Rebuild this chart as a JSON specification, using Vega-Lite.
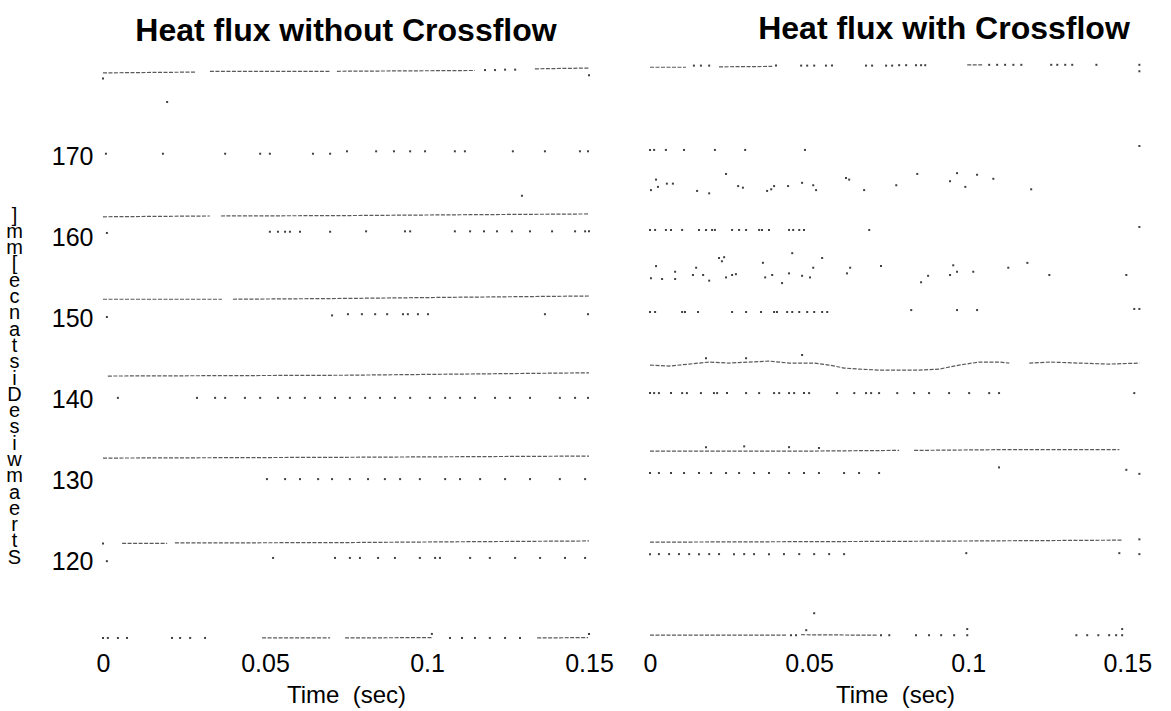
{
"$schema": "https://vega.github.io/schema/vega-lite/v6.json",
"background": "white",
"padding": {"left": 5, "top": 13, "right": 5, "bottom": 5},
"bounds": "flush",
"spacing": 61,
"resolve": {"scale": {"x": "independent", "y": "shared"}},
"datasets": {
"left": [
{"kind":"trace","seg":"L1a","time":0,"dist":180.4},{"kind":"trace","seg":"L1a","time":0.0284,"dist":180.5},
{"kind":"trace","seg":"L1b","time":0.033,"dist":180.6},{"kind":"trace","seg":"L1b","time":0.0701,"dist":180.6},
{"kind":"trace","seg":"L1c","time":0.0722,"dist":180.6},{"kind":"trace","seg":"L1c","time":0.1148,"dist":180.7},
{"kind":"trace","seg":"L1e","time":0.1333,"dist":180.9},{"kind":"trace","seg":"L1e","time":0.15,"dist":181.0},
{"kind":"trace","seg":"L5a","time":0,"dist":162.6},{"kind":"trace","seg":"L5a","time":0.033,"dist":162.7},
{"kind":"trace","seg":"L5b","time":0.0364,"dist":162.7},{"kind":"trace","seg":"L5b","time":0.0747,"dist":162.75},{"kind":"trace","seg":"L5b","time":0.1102,"dist":162.85},{"kind":"trace","seg":"L5b","time":0.15,"dist":162.95},
{"kind":"trace","seg":"L7a","time":0,"dist":152.4},{"kind":"trace","seg":"L7a","time":0.0367,"dist":152.4},
{"kind":"trace","seg":"L7b","time":0.0401,"dist":152.4},{"kind":"trace","seg":"L7b","time":0.0747,"dist":152.5},{"kind":"trace","seg":"L7b","time":0.1102,"dist":152.65},{"kind":"trace","seg":"L7b","time":0.15,"dist":152.8},
{"kind":"trace","seg":"L9","time":0.0015,"dist":142.9},{"kind":"trace","seg":"L9","time":0.0747,"dist":143.0},{"kind":"trace","seg":"L9","time":0.15,"dist":143.3},
{"kind":"trace","seg":"L11","time":0,"dist":132.75},{"kind":"trace","seg":"L11","time":0.0747,"dist":132.85},{"kind":"trace","seg":"L11","time":0.15,"dist":133.0},
{"kind":"trace","seg":"L13a","time":0.0059,"dist":122.2},{"kind":"trace","seg":"L13a","time":0.0198,"dist":122.2},
{"kind":"trace","seg":"L13b","time":0.0222,"dist":122.25},{"kind":"trace","seg":"L13b","time":0.0747,"dist":122.3},{"kind":"trace","seg":"L13b","time":0.1102,"dist":122.4},{"kind":"trace","seg":"L13b","time":0.15,"dist":122.5},
{"kind":"trace","seg":"L15a","time":0.0491,"dist":110.5},{"kind":"trace","seg":"L15a","time":0.0701,"dist":110.5},
{"kind":"trace","seg":"L15b","time":0.0747,"dist":110.5},{"kind":"trace","seg":"L15b","time":0.1015,"dist":110.55},
{"kind":"trace","seg":"L15c","time":0.134,"dist":110.5},{"kind":"trace","seg":"L15c","time":0.1497,"dist":110.55},
{"kind":"dot","time":0,"dist":179.7},{"kind":"dot","time":0.15,"dist":180.1},{"kind":"dot","time":0.0198,"dist":176.8},
{"kind":"dot","time":0.1179,"dist":180.75},{"kind":"dot","time":0.121,"dist":180.75},{"kind":"dot","time":0.1241,"dist":180.8},{"kind":"dot","time":0.1272,"dist":180.8},
{"kind":"dot","time":0.0009,"dist":170.4},{"kind":"dot","time":0.0185,"dist":170.4},{"kind":"dot","time":0.0377,"dist":170.4},{"kind":"dot","time":0.0485,"dist":170.4},{"kind":"dot","time":0.0515,"dist":170.4},{"kind":"dot","time":0.0648,"dist":170.4},{"kind":"dot","time":0.0701,"dist":170.4},
{"kind":"dot","time":0.0753,"dist":170.7},{"kind":"dot","time":0.0843,"dist":170.7},{"kind":"dot","time":0.0898,"dist":170.7},{"kind":"dot","time":0.0948,"dist":170.7},{"kind":"dot","time":0.0994,"dist":170.7},{"kind":"dot","time":0.1086,"dist":170.7},{"kind":"dot","time":0.1117,"dist":170.7},{"kind":"dot","time":0.1265,"dist":170.7},{"kind":"dot","time":0.1364,"dist":170.7},{"kind":"dot","time":0.1472,"dist":170.7},{"kind":"dot","time":0.1497,"dist":170.7},
{"kind":"dot","time":0.1293,"dist":165.2},
{"kind":"dot","time":0.0012,"dist":160.6},{"kind":"dot","time":0.0515,"dist":160.75},{"kind":"dot","time":0.054,"dist":160.75},{"kind":"dot","time":0.0562,"dist":160.75},{"kind":"dot","time":0.0577,"dist":160.75},{"kind":"dot","time":0.0608,"dist":160.75},{"kind":"dot","time":0.0701,"dist":160.75},
{"kind":"dot","time":0.0812,"dist":160.8},{"kind":"dot","time":0.0932,"dist":160.8},{"kind":"dot","time":0.0948,"dist":160.8},{"kind":"dot","time":0.1086,"dist":160.8},{"kind":"dot","time":0.1133,"dist":160.8},{"kind":"dot","time":0.1176,"dist":160.8},{"kind":"dot","time":0.1216,"dist":160.8},{"kind":"dot","time":0.1262,"dist":160.8},{"kind":"dot","time":0.1318,"dist":160.8},{"kind":"dot","time":0.1386,"dist":160.8},{"kind":"dot","time":0.1457,"dist":160.8},{"kind":"dot","time":0.1488,"dist":160.8},{"kind":"dot","time":0.15,"dist":160.8},
{"kind":"dot","time":0.0012,"dist":150.2},{"kind":"dot","time":0.0707,"dist":150.4},{"kind":"dot","time":0.0756,"dist":150.55},{"kind":"dot","time":0.0799,"dist":150.55},{"kind":"dot","time":0.084,"dist":150.55},{"kind":"dot","time":0.0877,"dist":150.55},{"kind":"dot","time":0.0926,"dist":150.55},{"kind":"dot","time":0.0941,"dist":150.55},{"kind":"dot","time":0.0972,"dist":150.55},{"kind":"dot","time":0.1003,"dist":150.55},{"kind":"dot","time":0.1364,"dist":150.55},{"kind":"dot","time":0.1497,"dist":150.55},
{"kind":"dot","time":0.0046,"dist":140.2},{"kind":"dot","time":0.029,"dist":140.2},{"kind":"dot","time":0.0346,"dist":140.2},{"kind":"dot","time":0.0377,"dist":140.2},{"kind":"dot","time":0.0438,"dist":140.2},{"kind":"dot","time":0.0485,"dist":140.2},{"kind":"dot","time":0.054,"dist":140.2},{"kind":"dot","time":0.0577,"dist":140.2},{"kind":"dot","time":0.0623,"dist":140.2},{"kind":"dot","time":0.067,"dist":140.2},{"kind":"dot","time":0.0716,"dist":140.2},{"kind":"dot","time":0.0762,"dist":140.2},{"kind":"dot","time":0.0809,"dist":140.2},{"kind":"dot","time":0.0855,"dist":140.2},{"kind":"dot","time":0.0901,"dist":140.2},{"kind":"dot","time":0.0948,"dist":140.2},{"kind":"dot","time":0.1009,"dist":140.2},{"kind":"dot","time":0.1056,"dist":140.2},{"kind":"dot","time":0.1102,"dist":140.2},{"kind":"dot","time":0.1148,"dist":140.2},{"kind":"dot","time":0.121,"dist":140.2},{"kind":"dot","time":0.1256,"dist":140.2},{"kind":"dot","time":0.1318,"dist":140.2},{"kind":"dot","time":0.141,"dist":140.2},{"kind":"dot","time":0.1457,"dist":140.2},{"kind":"dot","time":0.1497,"dist":140.2},
{"kind":"dot","time":0.0506,"dist":130.15},{"kind":"dot","time":0.0562,"dist":130.15},{"kind":"dot","time":0.0608,"dist":130.15},{"kind":"dot","time":0.0664,"dist":130.15},{"kind":"dot","time":0.0707,"dist":130.15},{"kind":"dot","time":0.0762,"dist":130.15},{"kind":"dot","time":0.0818,"dist":130.15},{"kind":"dot","time":0.087,"dist":130.15},{"kind":"dot","time":0.0917,"dist":130.15},{"kind":"dot","time":0.0978,"dist":130.15},{"kind":"dot","time":0.1056,"dist":130.15},{"kind":"dot","time":0.1102,"dist":130.15},{"kind":"dot","time":0.1164,"dist":130.15},{"kind":"dot","time":0.1241,"dist":130.15},{"kind":"dot","time":0.1318,"dist":130.15},{"kind":"dot","time":0.141,"dist":130.15},{"kind":"dot","time":0.1488,"dist":130.15},
{"kind":"dot","time":0,"dist":122.2},
{"kind":"dot","time":0.0012,"dist":120.0},{"kind":"dot","time":0.0525,"dist":120.4},{"kind":"dot","time":0.0716,"dist":120.4},{"kind":"dot","time":0.0762,"dist":120.4},{"kind":"dot","time":0.0793,"dist":120.4},{"kind":"dot","time":0.0849,"dist":120.4},{"kind":"dot","time":0.0901,"dist":120.4},{"kind":"dot","time":0.0978,"dist":120.4},{"kind":"dot","time":0.1025,"dist":120.4},{"kind":"dot","time":0.104,"dist":120.4},{"kind":"dot","time":0.1133,"dist":120.4},{"kind":"dot","time":0.1194,"dist":120.4},{"kind":"dot","time":0.1272,"dist":120.4},{"kind":"dot","time":0.1349,"dist":120.4},{"kind":"dot","time":0.1426,"dist":120.4},{"kind":"dot","time":0.1488,"dist":120.4},
{"kind":"dot","time":0,"dist":110.5},{"kind":"dot","time":0.0015,"dist":110.5},{"kind":"dot","time":0.0046,"dist":110.5},{"kind":"dot","time":0.0074,"dist":110.5},{"kind":"dot","time":0.0213,"dist":110.5},{"kind":"dot","time":0.0238,"dist":110.5},{"kind":"dot","time":0.0269,"dist":110.5},{"kind":"dot","time":0.0315,"dist":110.5},{"kind":"dot","time":0.1071,"dist":110.5},{"kind":"dot","time":0.1108,"dist":110.5},{"kind":"dot","time":0.1148,"dist":110.5},{"kind":"dot","time":0.1194,"dist":110.5},{"kind":"dot","time":0.1241,"dist":110.5},{"kind":"dot","time":0.1287,"dist":110.5},{"kind":"dot","time":0.1015,"dist":111.0},{"kind":"dot","time":0.15,"dist":111.0}
],
"right": [
{"kind":"trace","seg":"R1a","time":0,"dist":181.1},{"kind":"trace","seg":"R1a","time":0.0113,"dist":181.1},
{"kind":"trace","seg":"R1b","time":0.0217,"dist":181.15},{"kind":"trace","seg":"R1b","time":0.0384,"dist":181.2},
{"kind":"trace","seg":"R1c","time":0.0997,"dist":181.4},{"kind":"trace","seg":"R1c","time":0.1044,"dist":181.4},
{"kind":"trace","seg":"R7a","time":0,"dist":144.26},{"kind":"trace","seg":"R7a","time":0.006,"dist":144.13},{"kind":"trace","seg":"R7a","time":0.0123,"dist":144.38},{"kind":"trace","seg":"R7a","time":0.0186,"dist":144.63},{"kind":"trace","seg":"R7a","time":0.0248,"dist":144.5},{"kind":"trace","seg":"R7a","time":0.0311,"dist":144.63},{"kind":"trace","seg":"R7a","time":0.0374,"dist":144.75},{"kind":"trace","seg":"R7a","time":0.0437,"dist":144.5},{"kind":"trace","seg":"R7a","time":0.0516,"dist":144.5},{"kind":"trace","seg":"R7a","time":0.0563,"dist":144.26},{"kind":"trace","seg":"R7a","time":0.061,"dist":143.89},{"kind":"trace","seg":"R7a","time":0.0657,"dist":143.76},{"kind":"trace","seg":"R7a","time":0.072,"dist":143.64},{"kind":"trace","seg":"R7a","time":0.0783,"dist":143.64},{"kind":"trace","seg":"R7a","time":0.0846,"dist":143.64},{"kind":"trace","seg":"R7a","time":0.0909,"dist":143.76},{"kind":"trace","seg":"R7a","time":0.0972,"dist":144.26},{"kind":"trace","seg":"R7a","time":0.1035,"dist":144.63},{"kind":"trace","seg":"R7a","time":0.1097,"dist":144.63},{"kind":"trace","seg":"R7a","time":0.1129,"dist":144.5},
{"kind":"trace","seg":"R7b","time":0.1192,"dist":144.5},{"kind":"trace","seg":"R7b","time":0.1255,"dist":144.63},{"kind":"trace","seg":"R7b","time":0.1349,"dist":144.5},{"kind":"trace","seg":"R7b","time":0.1443,"dist":144.38},{"kind":"trace","seg":"R7b","time":0.1538,"dist":144.5},
{"kind":"trace","seg":"R9a","time":0,"dist":133.6},{"kind":"trace","seg":"R9a","time":0.0437,"dist":133.6},{"kind":"trace","seg":"R9a","time":0.0783,"dist":133.7},
{"kind":"trace","seg":"R9b","time":0.083,"dist":133.7},{"kind":"trace","seg":"R9b","time":0.1129,"dist":133.8},{"kind":"trace","seg":"R9b","time":0.1475,"dist":133.8},
{"kind":"trace","seg":"R11","time":0,"dist":122.35},{"kind":"trace","seg":"R11","time":0.0783,"dist":122.45},{"kind":"trace","seg":"R11","time":0.1484,"dist":122.6},
{"kind":"trace","seg":"R14a","time":0,"dist":110.84},{"kind":"trace","seg":"R14a","time":0.0428,"dist":110.84},
{"kind":"trace","seg":"R14b","time":0.0475,"dist":110.9},{"kind":"trace","seg":"R14b","time":0.0714,"dist":110.84},
{"kind":"dot","time":0.0138,"dist":181.3},{"kind":"dot","time":0.016,"dist":181.3},{"kind":"dot","time":0.0186,"dist":181.3},{"kind":"dot","time":0.0396,"dist":181.3},{"kind":"dot","time":0.0475,"dist":181.3},{"kind":"dot","time":0.0494,"dist":181.3},{"kind":"dot","time":0.0516,"dist":181.3},{"kind":"dot","time":0.0553,"dist":181.3},{"kind":"dot","time":0.0572,"dist":181.3},{"kind":"dot","time":0.0679,"dist":181.3},{"kind":"dot","time":0.0698,"dist":181.3},{"kind":"dot","time":0.0742,"dist":181.3},{"kind":"dot","time":0.0761,"dist":181.3},{"kind":"dot","time":0.0783,"dist":181.35},{"kind":"dot","time":0.0805,"dist":181.35},{"kind":"dot","time":0.0836,"dist":181.35},{"kind":"dot","time":0.0852,"dist":181.35},{"kind":"dot","time":0.0865,"dist":181.35},{"kind":"dot","time":0.1066,"dist":181.4},{"kind":"dot","time":0.1091,"dist":181.4},{"kind":"dot","time":0.1116,"dist":181.4},{"kind":"dot","time":0.1142,"dist":181.4},{"kind":"dot","time":0.1167,"dist":181.4},{"kind":"dot","time":0.1261,"dist":181.4},{"kind":"dot","time":0.128,"dist":181.4},{"kind":"dot","time":0.1305,"dist":181.4},{"kind":"dot","time":0.1327,"dist":181.4},{"kind":"dot","time":0.1403,"dist":181.4},{"kind":"dot","time":0.1538,"dist":181.4},{"kind":"dot","time":0.1538,"dist":180.6},
{"kind":"dot","time":0,"dist":170.87},{"kind":"dot","time":0.0013,"dist":170.87},{"kind":"dot","time":0.005,"dist":170.87},{"kind":"dot","time":0.0107,"dist":170.87},{"kind":"dot","time":0.0204,"dist":170.87},{"kind":"dot","time":0.0299,"dist":170.87},{"kind":"dot","time":0.0487,"dist":170.87},{"kind":"dot","time":0.1538,"dist":171.36},
{"kind":"dot","time":0.0019,"dist":167.2},{"kind":"dot","time":0.0003,"dist":165.9},{"kind":"dot","time":0.0025,"dist":166.3},{"kind":"dot","time":0.0053,"dist":166.7},{"kind":"dot","time":0.0072,"dist":166.7},{"kind":"dot","time":0.0148,"dist":165.8},{"kind":"dot","time":0.0186,"dist":165.5},{"kind":"dot","time":0.0239,"dist":167.9},{"kind":"dot","time":0.0277,"dist":166.4},{"kind":"dot","time":0.0292,"dist":166.2},{"kind":"dot","time":0.0368,"dist":165.8},{"kind":"dot","time":0.0381,"dist":166.0},{"kind":"dot","time":0.039,"dist":166.4},{"kind":"dot","time":0.0434,"dist":166.4},{"kind":"dot","time":0.0478,"dist":166.8},{"kind":"dot","time":0.0513,"dist":166.5},{"kind":"dot","time":0.0522,"dist":165.9},{"kind":"dot","time":0.0616,"dist":167.4},{"kind":"dot","time":0.0626,"dist":167.2},{"kind":"dot","time":0.0673,"dist":165.9},{"kind":"dot","time":0.0774,"dist":166.5},{"kind":"dot","time":0.084,"dist":167.9},{"kind":"dot","time":0.0943,"dist":167.0},{"kind":"dot","time":0.0965,"dist":168.0},{"kind":"dot","time":0.0991,"dist":166.3},{"kind":"dot","time":0.1028,"dist":167.8},{"kind":"dot","time":0.1079,"dist":167.3},{"kind":"dot","time":0.1198,"dist":166.0},
{"kind":"dot","time":0,"dist":160.97},{"kind":"dot","time":0.0016,"dist":160.97},{"kind":"dot","time":0.005,"dist":160.97},{"kind":"dot","time":0.0066,"dist":160.97},{"kind":"dot","time":0.0101,"dist":160.97},{"kind":"dot","time":0.0154,"dist":160.97},{"kind":"dot","time":0.0176,"dist":160.97},{"kind":"dot","time":0.0195,"dist":160.97},{"kind":"dot","time":0.0204,"dist":160.97},{"kind":"dot","time":0.0258,"dist":160.97},{"kind":"dot","time":0.028,"dist":160.97},{"kind":"dot","time":0.0302,"dist":160.97},{"kind":"dot","time":0.0343,"dist":160.97},{"kind":"dot","time":0.0352,"dist":160.97},{"kind":"dot","time":0.0374,"dist":160.97},{"kind":"dot","time":0.0437,"dist":160.97},{"kind":"dot","time":0.045,"dist":160.97},{"kind":"dot","time":0.0469,"dist":160.97},{"kind":"dot","time":0.0484,"dist":160.97},{"kind":"dot","time":0.0689,"dist":160.97},{"kind":"dot","time":0.1538,"dist":161.34},
{"kind":"dot","time":0.0019,"dist":156.5},{"kind":"dot","time":0.0003,"dist":155.0},{"kind":"dot","time":0.0038,"dist":154.9},{"kind":"dot","time":0.0079,"dist":155.8},{"kind":"dot","time":0.0079,"dist":154.9},{"kind":"dot","time":0.0135,"dist":155.4},{"kind":"dot","time":0.0145,"dist":156.3},{"kind":"dot","time":0.0167,"dist":155.4},{"kind":"dot","time":0.0186,"dist":154.7},{"kind":"dot","time":0.0217,"dist":157.5},{"kind":"dot","time":0.0233,"dist":157.6},{"kind":"dot","time":0.0226,"dist":157.1},{"kind":"dot","time":0.0239,"dist":155.1},{"kind":"dot","time":0.0258,"dist":155.4},{"kind":"dot","time":0.027,"dist":155.5},{"kind":"dot","time":0.0355,"dist":156.9},{"kind":"dot","time":0.0362,"dist":155.1},{"kind":"dot","time":0.0384,"dist":155.4},{"kind":"dot","time":0.0415,"dist":154.4},{"kind":"dot","time":0.0437,"dist":155.6},{"kind":"dot","time":0.0447,"dist":158.1},{"kind":"dot","time":0.0478,"dist":155.3},{"kind":"dot","time":0.0503,"dist":155.1},{"kind":"dot","time":0.0513,"dist":156.3},{"kind":"dot","time":0.0541,"dist":157.5},{"kind":"dot","time":0.0619,"dist":155.6},{"kind":"dot","time":0.0629,"dist":156.3},{"kind":"dot","time":0.0726,"dist":156.5},{"kind":"dot","time":0.0852,"dist":154.5},{"kind":"dot","time":0.0874,"dist":155.3},{"kind":"dot","time":0.0943,"dist":155.4},{"kind":"dot","time":0.0953,"dist":156.6},{"kind":"dot","time":0.0965,"dist":155.8},{"kind":"dot","time":0.1016,"dist":155.8},{"kind":"dot","time":0.1126,"dist":156.3},{"kind":"dot","time":0.1186,"dist":156.9},{"kind":"dot","time":0.1255,"dist":155.4},{"kind":"dot","time":0.1497,"dist":155.4},
{"kind":"dot","time":0,"dist":150.82},{"kind":"dot","time":0.0016,"dist":150.82},{"kind":"dot","time":0.0101,"dist":150.82},{"kind":"dot","time":0.011,"dist":150.82},{"kind":"dot","time":0.0151,"dist":150.82},{"kind":"dot","time":0.0258,"dist":150.82},{"kind":"dot","time":0.0302,"dist":150.82},{"kind":"dot","time":0.0349,"dist":150.82},{"kind":"dot","time":0.039,"dist":150.82},{"kind":"dot","time":0.0399,"dist":150.82},{"kind":"dot","time":0.0431,"dist":150.82},{"kind":"dot","time":0.0447,"dist":150.82},{"kind":"dot","time":0.0469,"dist":150.82},{"kind":"dot","time":0.0494,"dist":150.82},{"kind":"dot","time":0.0516,"dist":150.82},{"kind":"dot","time":0.0541,"dist":150.82},{"kind":"dot","time":0.0557,"dist":150.82},{"kind":"dot","time":0.0821,"dist":151.06},{"kind":"dot","time":0.0965,"dist":151.06},{"kind":"dot","time":0.1028,"dist":151.06},{"kind":"dot","time":0.1522,"dist":151.2},{"kind":"dot","time":0.1538,"dist":151.2},
{"kind":"dot","time":0.0176,"dist":145.1},{"kind":"dot","time":0.0302,"dist":145.1},{"kind":"dot","time":0.0478,"dist":145.5},
{"kind":"dot","time":0,"dist":140.79},{"kind":"dot","time":0.0013,"dist":140.79},{"kind":"dot","time":0.0028,"dist":140.79},{"kind":"dot","time":0.0066,"dist":140.79},{"kind":"dot","time":0.0101,"dist":140.79},{"kind":"dot","time":0.0116,"dist":140.79},{"kind":"dot","time":0.016,"dist":140.79},{"kind":"dot","time":0.0201,"dist":140.79},{"kind":"dot","time":0.0211,"dist":140.79},{"kind":"dot","time":0.0242,"dist":140.79},{"kind":"dot","time":0.0302,"dist":140.79},{"kind":"dot","time":0.0343,"dist":140.79},{"kind":"dot","time":0.039,"dist":140.79},{"kind":"dot","time":0.0406,"dist":140.79},{"kind":"dot","time":0.0437,"dist":140.79},{"kind":"dot","time":0.0453,"dist":140.79},{"kind":"dot","time":0.0484,"dist":140.79},{"kind":"dot","time":0.05,"dist":140.79},{"kind":"dot","time":0.0588,"dist":140.79},{"kind":"dot","time":0.0642,"dist":140.79},{"kind":"dot","time":0.0679,"dist":140.79},{"kind":"dot","time":0.0695,"dist":140.79},{"kind":"dot","time":0.072,"dist":140.79},{"kind":"dot","time":0.0777,"dist":140.79},{"kind":"dot","time":0.083,"dist":140.79},{"kind":"dot","time":0.0877,"dist":140.79},{"kind":"dot","time":0.094,"dist":140.79},{"kind":"dot","time":0.1003,"dist":140.79},{"kind":"dot","time":0.1066,"dist":140.79},{"kind":"dot","time":0.1097,"dist":140.79},{"kind":"dot","time":0.1522,"dist":140.79},
{"kind":"dot","time":0.0176,"dist":134.1},{"kind":"dot","time":0.0296,"dist":134.2},{"kind":"dot","time":0.0437,"dist":134.1},{"kind":"dot","time":0.0531,"dist":134.0},
{"kind":"dot","time":0,"dist":130.9},{"kind":"dot","time":0.0028,"dist":130.9},{"kind":"dot","time":0.0066,"dist":130.9},{"kind":"dot","time":0.0107,"dist":130.9},{"kind":"dot","time":0.0154,"dist":130.9},{"kind":"dot","time":0.0192,"dist":130.9},{"kind":"dot","time":0.0239,"dist":130.9},{"kind":"dot","time":0.028,"dist":130.9},{"kind":"dot","time":0.0327,"dist":130.9},{"kind":"dot","time":0.0374,"dist":130.9},{"kind":"dot","time":0.0437,"dist":130.9},{"kind":"dot","time":0.0484,"dist":130.9},{"kind":"dot","time":0.0531,"dist":130.9},{"kind":"dot","time":0.061,"dist":130.9},{"kind":"dot","time":0.0657,"dist":130.9},{"kind":"dot","time":0.072,"dist":130.9},{"kind":"dot","time":0.1097,"dist":131.6},{"kind":"dot","time":0.1497,"dist":131.3},{"kind":"dot","time":0.1538,"dist":130.8},
{"kind":"dot","time":0.1538,"dist":122.7},
{"kind":"dot","time":0,"dist":120.87},{"kind":"dot","time":0.0028,"dist":120.87},{"kind":"dot","time":0.006,"dist":120.87},{"kind":"dot","time":0.0091,"dist":120.87},{"kind":"dot","time":0.0123,"dist":120.87},{"kind":"dot","time":0.0154,"dist":120.87},{"kind":"dot","time":0.0186,"dist":120.87},{"kind":"dot","time":0.0217,"dist":120.87},{"kind":"dot","time":0.0264,"dist":120.87},{"kind":"dot","time":0.0296,"dist":120.87},{"kind":"dot","time":0.0327,"dist":120.87},{"kind":"dot","time":0.0374,"dist":120.87},{"kind":"dot","time":0.0421,"dist":120.87},{"kind":"dot","time":0.0469,"dist":120.87},{"kind":"dot","time":0.0516,"dist":120.87},{"kind":"dot","time":0.0563,"dist":120.87},{"kind":"dot","time":0.061,"dist":120.87},{"kind":"dot","time":0.0994,"dist":120.99},{"kind":"dot","time":0.1475,"dist":120.99},{"kind":"dot","time":0.1538,"dist":120.87},
{"kind":"dot","time":0.0516,"dist":113.56},
{"kind":"dot","time":0.0443,"dist":110.84},{"kind":"dot","time":0.0459,"dist":110.84},{"kind":"dot","time":0.0491,"dist":111.46},{"kind":"dot","time":0.0726,"dist":110.84},{"kind":"dot","time":0.0752,"dist":110.84},{"kind":"dot","time":0.0836,"dist":110.84},{"kind":"dot","time":0.0877,"dist":110.84},{"kind":"dot","time":0.0915,"dist":110.84},{"kind":"dot","time":0.0956,"dist":110.84},{"kind":"dot","time":0.0997,"dist":110.84},{"kind":"dot","time":0.0997,"dist":111.6},{"kind":"dot","time":0.134,"dist":110.84},{"kind":"dot","time":0.1374,"dist":110.84},{"kind":"dot","time":0.1409,"dist":110.84},{"kind":"dot","time":0.1443,"dist":110.84},{"kind":"dot","time":0.1465,"dist":110.84},{"kind":"dot","time":0.1484,"dist":111.6},{"kind":"dot","time":0.1484,"dist":110.84}
]
},
"hconcat": [
{
"title": {"text": "Heat flux without Crossflow", "fontSize": 32, "fontWeight": "bold", "font": "Liberation Sans", "color": "black", "anchor": "middle", "offset": 16},
"width": 486, "height": 578,
"data": {"name": "left"},
"encoding": {
"x": {"field": "time", "type": "quantitative", "scale": {"domain": [0, 0.15], "nice": false, "zero": false},
"axis": {"values": [0, 0.05, 0.1, 0.15], "labelExpr": "'' + datum.value", "title": "Time\u00a0\u00a0(sec)", "titleFontSize": 24, "titleFontWeight": "normal", "titlePadding": 7, "labelFontSize": 25, "labelPadding": 9, "ticks": false, "domain": false, "grid": false, "labelFlush": false}},
"y": {"field": "dist", "type": "quantitative", "scale": {"domain": [110, 181.5], "nice": false, "zero": false},
"axis": {"values": [120, 130, 140, 150, 160, 170], "title": ["]", "m", "m", "[", "e", "c", "n", "a", "t", "s", "i", "D", " ", "e", "s", "i", "w", "m", "a", "e", "r", "t", "S"], "titleAngle": 0, "titleAlign": "center", "titleBaseline": "middle", "titleX": -89, "titleY": 151, "titleFontSize": 20, "titleFontWeight": "normal", "titleLineHeight": 16.3, "labelFontSize": 25, "labelPadding": 10, "ticks": false, "domain": false, "grid": false}}
},
"layer": [
{"transform": [{"filter": "datum.kind === 'trace'"}], "mark": {"type": "line", "stroke": "#5a5a5a", "strokeWidth": 1.2, "strokeDash": [4, 1.5]}, "encoding": {"detail": {"field": "seg"}}},
{"transform": [{"filter": "datum.kind === 'dot'"}], "mark": {"type": "square", "size": 4, "color": "#404040", "opacity": 1}}
]
},
{
"title": {"text": "Heat flux with Crossflow", "fontSize": 32, "fontWeight": "bold", "font": "Liberation Sans", "color": "black", "anchor": "middle", "offset": 16, "dx": 49},
"width": 490, "height": 578,
"data": {"name": "right"},
"encoding": {
"x": {"field": "time", "type": "quantitative", "scale": {"domain": [0, 0.154], "nice": false, "zero": false},
"axis": {"values": [0, 0.05, 0.1, 0.15], "labelExpr": "'' + datum.value", "title": "Time\u00a0\u00a0(sec)", "titleFontSize": 24, "titleFontWeight": "normal", "titlePadding": 7, "labelFontSize": 25, "labelPadding": 9, "ticks": false, "domain": false, "grid": false, "labelFlush": false}},
"y": {"field": "dist", "type": "quantitative", "scale": {"domain": [110, 181.5], "nice": false, "zero": false}, "axis": null}
},
"layer": [
{"transform": [{"filter": "datum.kind === 'trace'"}], "mark": {"type": "line", "stroke": "#5a5a5a", "strokeWidth": 1.2, "strokeDash": [4, 1.5]}, "encoding": {"detail": {"field": "seg"}}},
{"transform": [{"filter": "datum.kind === 'dot'"}], "mark": {"type": "square", "size": 4, "color": "#404040", "opacity": 1}}
]
}
],
"config": {"view": {"stroke": null}, "font": "Liberation Sans", "axis": {"labelColor": "black", "titleColor": "black", "labelFont": "Liberation Sans", "titleFont": "Liberation Sans"}}
}
